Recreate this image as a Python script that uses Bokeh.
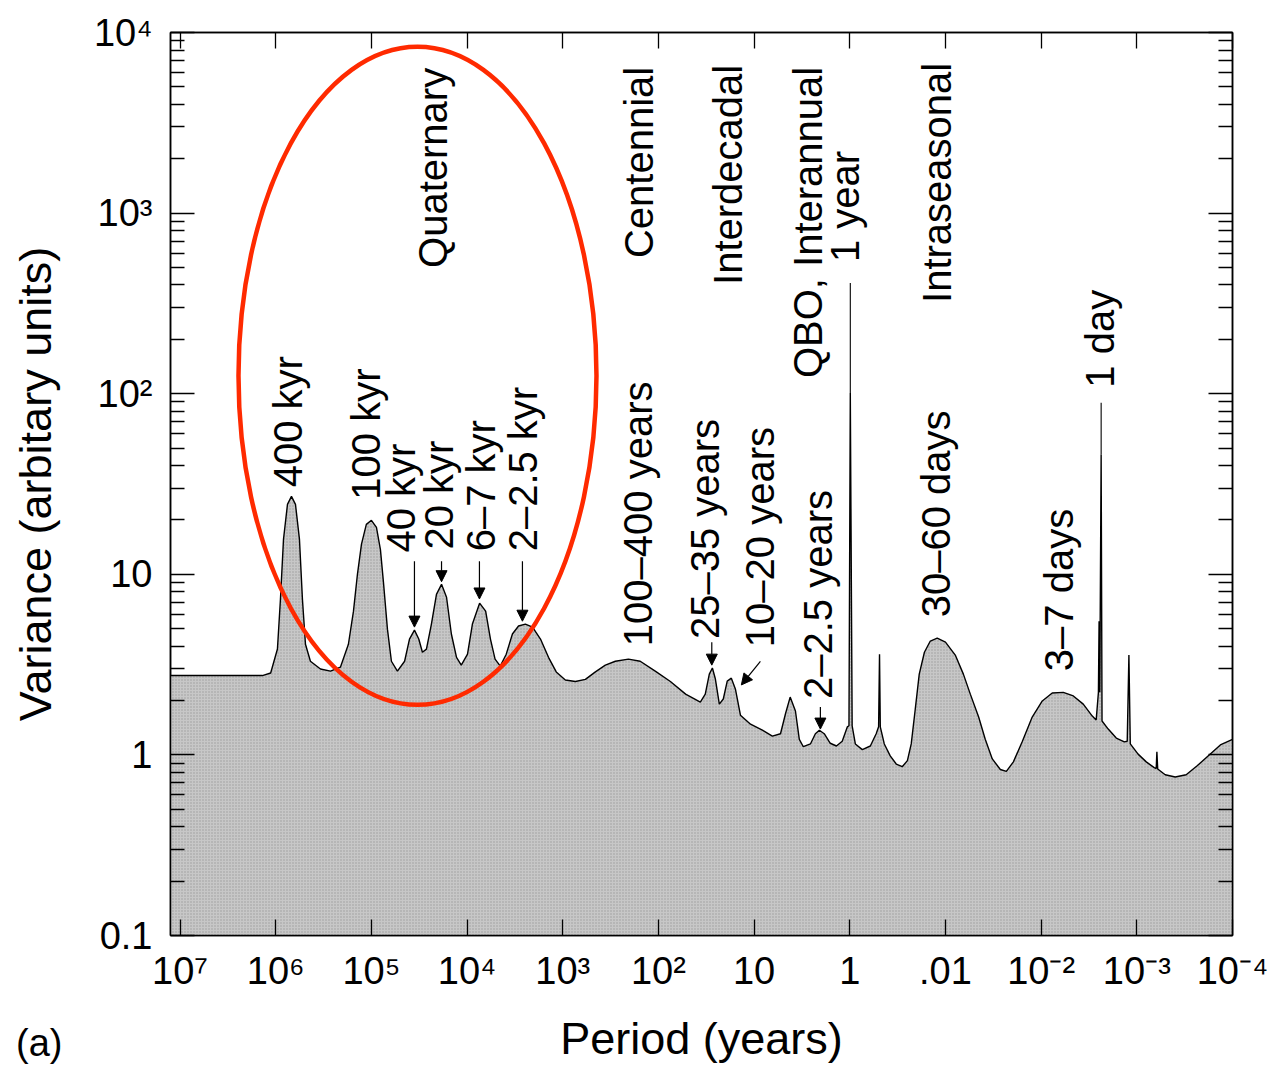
import math
from bokeh.plotting import figure
from bokeh.layouts import column
from bokeh.models import (Range1d, LogAxis, FixedTicker, LabelSet, ColumnDataSource,
                          Arrow, NormalHead, Div)
from bokeh.core.properties import value
from bokeh.embed import file_html
from bokeh.resources import INLINE

# ---------------- data ----------------
period = [
    1.3e7, 1.38e6, 1.13e6, 9.6e5, 8.93e5, 8.3e5, 7.54e5, 6.85e5, 6.22e5, 5.65e5,
    5.26e5, 4.89e5, 4.34e5, 3.41e5, 2.68e5, 2.11e5, 1.74e5, 1.54e5, 1.40e5, 1.27e5,
    1.13e5, 1.0e5, 8.86e4, 8.05e4, 7.48e4, 6.8e4, 6.18e4, 5.35e4,
    4.5e4, 4.0e4, 3.55e4, 3.2e4, 2.93e4, 2.66e4, 2.36e4, 2.09e4, 1.85e4,
    1.64e4, 1.46e4, 1.29e4, 1.15e4, 9.9e3, 8.8e3, 7.4e3, 6.4e3, 5.7e3, 5.1e3,
    4.5e3, 3.9e3, 3.36e3, 2.9e3, 2.46e3, 2.07e3, 1.71e3, 1.41e3, 1.17e3, 940,
    738, 580, 456, 359, 282, 206, 155, 108, 75, 52,
    36.5, 32.4, 29.4, 27.3, 25.4, 23.1, 21.0, 19.1, 17.3, 15.7,
    13.9, 10.9, 8.2, 6.45, 5.3, 4.7, 4.2, 3.7, 3.37, 3.06,
    2.58, 2.29, 2.08, 1.85, 1.6, 1.38, 1.2, 1.06, 1.02, 0.988,
    0.945, 0.875, 0.74, 0.61, 0.53, 0.50, 0.489, 0.48, 0.436, 0.378,
    0.327, 0.283, 0.25, 0.228, 0.207, 0.188, 0.166, 0.144, 0.122, 0.100,
    0.079, 0.065, 0.055, 0.045, 0.0384, 0.0324, 0.0267, 0.0231, 0.0195, 0.0157,
    0.0124, 0.00973, 0.00766, 0.00587, 0.00461, 0.00363, 0.00292, 0.00266, 0.00252, 0.00248,
    0.00244, 0.00236, 0.00231, 0.00199, 0.00164, 0.00135, 0.00126, 0.00121, 0.00117, 9.7e-4,
    7.97e-4, 6.58e-4, 6.27e-4, 6.17e-4, 6.05e-4, 5.05e-4, 3.97e-4, 3.05e-4, 2.34e-4, 1.8e-4,
    1.34e-4, 1.0e-4,
]
variance = [
    2.75, 2.75, 2.84, 3.86, 7.28, 15.6, 24.4, 27.0, 24.4, 15.6,
    7.28, 4.1, 3.3, 2.99, 2.91, 3.06, 4.1, 6.25, 10.0, 14.7,
    18.9, 19.9, 18.2, 13.7, 9.0, 4.97, 3.3, 2.91,
    3.3, 4.38, 4.91, 4.38, 3.7, 3.85, 5.3, 7.74, 8.8,
    7.46, 4.67, 3.47, 3.14, 3.61, 5.3, 6.92, 6.25, 4.38, 3.39,
    3.1, 3.61, 4.67, 5.17, 5.3, 5.1, 4.38, 3.47, 2.88, 2.6,
    2.55, 2.62, 2.88, 3.14, 3.3, 3.39, 3.3, 2.91, 2.55, 2.17,
    1.96, 2.17, 2.8, 3.03, 2.63, 1.91, 2.04, 2.56, 2.66, 2.32,
    1.66, 1.48, 1.37, 1.27, 1.31, 1.69, 2.09, 1.75, 1.22, 1.11,
    1.15, 1.31, 1.37, 1.31, 1.16, 1.12, 1.19, 1.43, 1.45, 101,
    1.45, 1.15, 1.07, 1.12, 1.31, 1.43, 3.61, 1.43, 1.15, 0.987,
    0.89, 0.86, 0.93, 1.15, 1.79, 2.8, 3.7, 4.27, 4.43, 4.21,
    3.57, 2.8, 2.17, 1.62, 1.22, 0.95, 0.83, 0.81, 0.915, 1.19,
    1.62, 1.99, 2.2, 2.22, 2.12, 1.91, 1.64, 1.56, 2.22, 5.5,
    2.22, 46, 1.54, 1.39, 1.24, 1.18, 1.19, 3.57, 1.15, 1.01,
    0.915, 0.85, 0.84, 1.04, 0.835, 0.776, 0.755, 0.776, 0.87, 0.987,
    1.135, 1.22,
]
assert len(period) == len(variance)

x_tick_values = [1e7, 1e6, 1e5, 1e4, 1e3, 1e2, 10, 1, 0.1, 0.01, 0.001, 0.0001]
x_tick_labels = ["10\u2077", "10\u2076", "10\u2075", "10\u2074", "10\u00b3", "10\u00b2",
                 "10", "1", ".01", "10\u207b\u00b2", "10\u207b\u00b3", "10\u207b\u2074"]
y_tick_values = [0.1, 1, 10, 100, 1000, 10000]
y_tick_labels = ["0.1", "1", "10", "10\u00b2", "10\u00b3", "10\u2074"]
y_minor_values = [m * 10.0 ** e for e in range(-1, 4) for m in range(2, 10)]

# rotated annotation texts: (text, period, variance at the start of the text)
note_text = ["Quaternary", "Centennial", "Interdecadal", "QBO, Interannual", "1 year",
             "Intraseasonal", "400 kyr", "100 kyr", "40 kyr", "20 kyr", "6\u20137 kyr",
             "2\u20132.5 kyr", "100\u2013400 years", "25\u201335 years", "10\u201320 years",
             "2\u20132.5 years", "30\u201360 days", "3\u20137 days", "1 day"]
note_period = [2.25e4, 158, 18.6, 2.71, 1.11,
               0.1217, 7.5e5, 1.15e5, 4.85e4, 1.95e4, 7.08e3,
               2.58e3, 162, 32.4, 8.6,
               2.13, 0.125, 6.47e-3, 2.41e-3]
note_variance = [497, 564, 400, 122, 536,
                 318, 30.3, 25.9, 13.2, 13.7, 13.4,
                 13.4, 4.0, 4.38, 3.95,
                 2.04, 5.78, 2.91, 108]

# arrows pointing at peaks: start (period, variance) -> end (period, variance)
arrow_p0 = [3.55e4, 1.85e4, 7.43e3, 2.64e3, 27.7, 8.6, 2.03]
arrow_v0 = [11.8, 11.8, 11.8, 11.8, 4.2, 3.3, 1.84]
arrow_p1 = [3.55e4, 1.85e4, 7.43e3, 2.64e3, 27.7, 13.6, 2.03]
arrow_v1 = [5.1, 9.1, 7.3, 5.5, 3.14, 2.44, 1.39]

# leader lines from the "1 year" and "1 day" labels to their spikes
leader_p = [0.988, 0.00236]
leader_v0 = [101, 46]
leader_v1 = [410, 89]

FONT = "Liberation Sans"

p = figure(width=1273, height=1067, x_axis_type="log", y_axis_type="log",
           x_range=Range1d(10 ** 7.1, 1e-4), y_range=Range1d(0.1, 1e4),
           output_backend="svg", toolbar_location=None,
           min_border_left=170, min_border_right=41, min_border_top=32,
           min_border_bottom=132)
p.xgrid.visible = False
p.ygrid.visible = False
p.background_fill_color = "white"
p.border_fill_color = "white"
p.outline_line_color = "black"
p.outline_line_width = 1.5

# spectrum
p.varea(x=period, y1=[0.05] * len(period), y2=variance,
        fill_color="#c7c7c7", hatch_pattern="dot", hatch_color="#7f7f7f",
        hatch_scale=3, hatch_weight=1, hatch_alpha=0.6)
p.line(period, variance, line_color="black", line_width=1.4)

# axes
xa = p.xaxis[0]
xa.ticker = FixedTicker(ticks=x_tick_values)
xa.major_label_overrides = dict(zip(x_tick_values, x_tick_labels))
xa.major_tick_in = 16
xa.major_tick_out = 0
xa.minor_tick_line_color = None
xa.major_label_text_font = FONT
xa.major_label_text_font_size = "38px"
xa.major_label_text_color = "black"
xa.major_label_standoff = 14
xa.axis_label = "Period (years)"
xa.axis_label_text_font = FONT
xa.axis_label_text_font_size = "45px"
xa.axis_label_text_font_style = "normal"
xa.axis_label_text_color = "black"
xa.axis_label_standoff = 18
xa.axis_line_width = 1.5
xa.major_tick_line_width = 1.3

ya = p.yaxis[0]
ya.ticker = FixedTicker(ticks=y_tick_values, minor_ticks=y_minor_values)
ya.major_label_overrides = dict(zip(y_tick_values, y_tick_labels))
ya.major_tick_in = 24
ya.major_tick_out = 0
ya.minor_tick_in = 14
ya.minor_tick_out = 0
ya.major_label_text_font = FONT
ya.major_label_text_font_size = "38px"
ya.major_label_text_color = "black"
ya.major_label_standoff = 18
ya.axis_label = "Variance (arbitary units)"
ya.axis_label_text_font = FONT
ya.axis_label_text_font_size = "45px"
ya.axis_label_text_font_style = "normal"
ya.axis_label_text_color = "black"
ya.axis_label_standoff = 30
ya.axis_line_width = 1.5
ya.major_tick_line_width = 1.3
ya.minor_tick_line_width = 1.3

top_axis = LogAxis(ticker=FixedTicker(ticks=x_tick_values),
                   major_tick_in=16, major_tick_out=0, minor_tick_line_color=None,
                   major_label_text_font_size="4px", major_label_text_color=None,
                   major_label_standoff=0,
                   axis_line_width=1.5, major_tick_line_width=1.3)
p.add_layout(top_axis, "above")
right_axis = LogAxis(ticker=FixedTicker(ticks=y_tick_values, minor_ticks=y_minor_values),
                     major_tick_in=24, major_tick_out=0, minor_tick_in=14, minor_tick_out=0,
                     major_label_text_font_size="4px", major_label_text_color=None,
                     major_label_standoff=0,
                     axis_line_width=1.5, major_tick_line_width=1.3, minor_tick_line_width=1.3)
p.add_layout(right_axis, "right")

# leader lines
p.segment(x0=leader_p, y0=leader_v0, x1=leader_p, y1=leader_v1,
          line_color="black", line_width=1.1)

# arrows
for xs, ys, xe, ye in zip(arrow_p0, arrow_v0, arrow_p1, arrow_v1):
    p.add_layout(Arrow(end=NormalHead(size=11, fill_color="black", line_color="black",
                                      line_width=1),
                       x_start=xs, y_start=ys, x_end=xe, y_end=ye,
                       line_color="black", line_width=1.2))

# rotated annotation texts
notes = ColumnDataSource(dict(x=note_period, y=note_variance, text=note_text))
p.add_layout(LabelSet(x="x", y="y", text="text", source=notes, angle=math.pi / 2,
                      text_font=value(FONT), text_font_size=value("40px"),
                      text_align="left", text_baseline="middle", text_color="black"))

# red ellipse around the Quaternary peaks
p.ellipse(x=[3.3e4], y=[125.6], width=358, height=658,
          width_units="screen", height_units="screen",
          fill_color=None, line_color="#ff2a00", line_width=4.5, level="overlay")

# panel letter, placed over the bottom-left corner of the figure
panel_letter = Div(text="(a)", width=80, height=44, margin=(-46, 0, 0, 16),
                   styles={"font-family": FONT, "font-size": "38px",
                           "line-height": "44px", "color": "black"})

layout = column(p, panel_letter, spacing=0)

open("out.html", "w").write(file_html(layout, INLINE))
